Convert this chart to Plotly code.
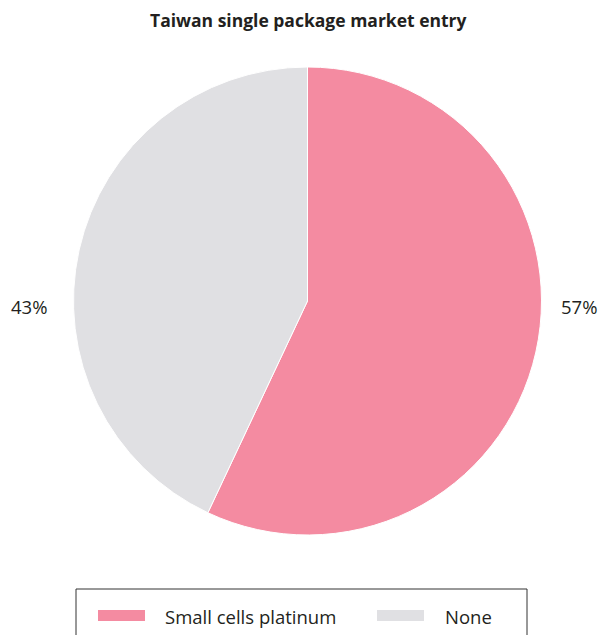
import plotly.graph_objects as go

# Share of single-package market entries in Taiwan
categories = ["Small cells platinum", "None"]
shares = [57, 43]
colors = ["#F48BA1", "#E0E0E3"]

title_text = "Taiwan single package market entry"
font_family = "Open Sans, Noto Sans, sans-serif"
text_color = "#231F20"

W, H = 600, 635
cx, cy, r = 307.5, 301, 234

fig = go.Figure(
    go.Pie(
        labels=categories,
        values=shares,
        marker=dict(colors=colors, line=dict(color="white", width=1)),
        sort=False,
        direction="clockwise",
        rotation=0,
        textinfo="none",
        hoverinfo="label+percent",
        showlegend=False,
        domain=dict(x=[(cx - r) / W, (cx + r) / W],
                    y=[1 - (cy + r) / H, 1 - (cy - r) / H]),
    )
)

total = sum(shares)
annotations = [
    dict(text=title_text, x=308 / W, y=1 - 20 / H, xref="paper", yref="paper",
         showarrow=False, xanchor="center", yanchor="middle",
         font=dict(size=17.5, family=font_family, color=text_color, weight="bold")),
    # percentage labels on either side of the pie
    dict(text=f"{round(shares[0] / total * 100)}%", x=578.5 / W, y=1 - 306 / H,
         xref="paper", yref="paper", showarrow=False, xanchor="center", yanchor="middle",
         font=dict(size=18.5, family=font_family, color=text_color)),
    dict(text=f"{round(shares[1] / total * 100)}%", x=28.5 / W, y=1 - 306 / H,
         xref="paper", yref="paper", showarrow=False, xanchor="center", yanchor="middle",
         font=dict(size=18.5, family=font_family, color=text_color)),
]

shapes = [
    # legend frame
    dict(type="rect", xref="paper", yref="paper",
         x0=76 / W, x1=527 / W, y0=-0.05, y1=1 - 589 / H,
         line=dict(color="#333333", width=1), fillcolor="rgba(0,0,0,0)"),
]

# legend swatches and labels
swatch_x = [98, 377]
label_x = [163, 443]
for i, name in enumerate(categories):
    shapes.append(dict(type="rect", xref="paper", yref="paper",
                       x0=swatch_x[i] / W, x1=(swatch_x[i] + 47) / W,
                       y0=1 - 621 / H, y1=1 - 610 / H,
                       line=dict(width=0), fillcolor=colors[i]))
    annotations.append(dict(text=name, x=label_x[i] / W, y=1 - 616 / H,
                            xref="paper", yref="paper", showarrow=False,
                            xanchor="left", yanchor="middle",
                            font=dict(size=18.5, family=font_family, color=text_color)))

fig.update_layout(
    width=W, height=H,
    margin=dict(l=0, r=0, t=0, b=0),
    paper_bgcolor="white",
    plot_bgcolor="white",
    annotations=annotations,
    shapes=shapes,
    showlegend=False,
)

fig.write_html("out.html")
